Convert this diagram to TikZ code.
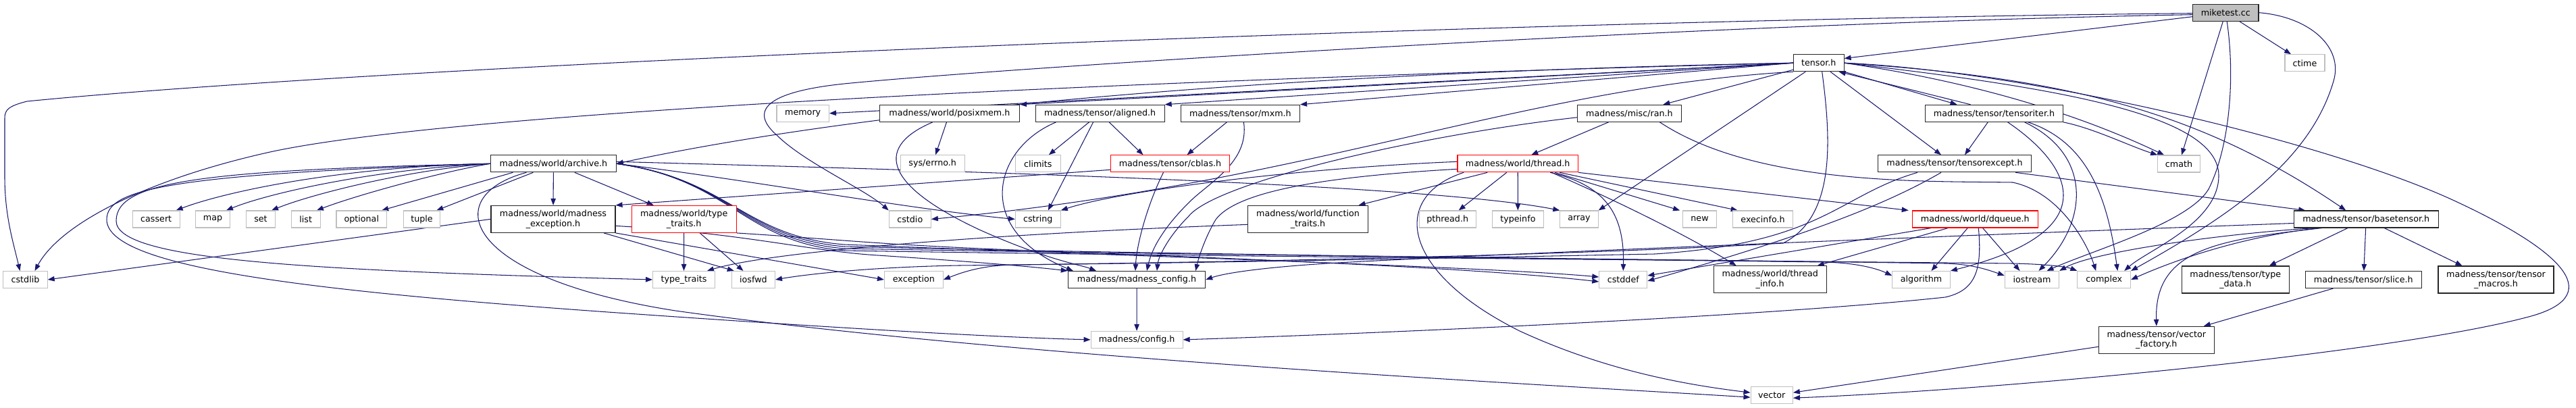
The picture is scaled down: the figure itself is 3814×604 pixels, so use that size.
\documentclass[tikz,border=0pt]{standalone}
\usepackage{fontspec}
\setmainfont{DejaVu Sans}
\usetikzlibrary{arrows.meta}
\definecolor{edgec}{HTML}{191970}
\definecolor{grayb}{HTML}{BFBFBF}
\pgfdeclarelayer{bg}
\pgfdeclarelayer{paper}
\pgfsetlayers{paper,bg,main}
\begin{document}
\begin{tikzpicture}[x=1pt,y=-1pt,
 nd/.style={rectangle, inner sep=0pt, minimum height=25, font=\fontsize{12.7}{14.6}\selectfont, align=center, fill=white, line width=1.1pt},
 doc/.style={nd, draw=black!85},
 sys/.style={nd, draw=grayb},
 trunc/.style={nd, draw=red},
 root/.style={nd, draw=black!85, fill=grayb},
 two/.style={minimum height=40},
 e/.style={draw=edgec, line width=1.05pt, -{Triangle[length=10pt,width=7.5pt]}}]
\useasboundingbox (0,0) rectangle (3814,604);
\begin{pgfonlayer}{paper}
\fill[white] (0,0) rectangle (3814,604);
\end{pgfonlayer}
% rank 0/1
\node[root, minimum width=97.3] (miketest) at (3295.3,18.7) {miketest.cc};
\node[doc, minimum width=74.7] (tensor) at (2692.7,93.2) {tensor.h};
\node[sys, minimum width=59] (ctime) at (3412.5,93.3) {ctime};
% rank 2
\node[sys, minimum width=77.5] (memory) at (1188.7,167.8) {memory};
\node[doc, minimum width=207] (posixmem) at (1405.9,167.8) {madness/world/posixmem.h};
\node[doc, minimum width=191] (aligned) at (1628.6,167.8) {madness/tensor/aligned.h};
\node[doc, minimum width=176.3] (mxm) at (1836.4,167.8) {madness/tensor/mxm.h};
\node[doc, minimum width=153.3] (ran) at (2412.4,167.8) {madness/misc/ran.h};
\node[doc, minimum width=203.6] (tensoriter) at (2952.5,167.8) {madness/tensor/tensoriter.h};
% rank 3
\node[doc, minimum width=185.8] (archive) at (819.4,242.3) {madness/world/archive.h};
\node[sys, minimum width=95.1] (errno) at (1380.7,242.3) {sys/errno.h};
\node[sys, minimum width=66.9] (climits) at (1536.8,242.3) {climits};
\node[trunc, minimum width=176] (cblas) at (1732.5,242.3) {madness/tensor/cblas.h};
\node[trunc, minimum width=178.4] (thread) at (2247.2,242.3) {madness/world/thread.h};
\node[doc, minimum width=227] (tensorexcept) at (2894,242.3) {madness/tensor/tensorexcept.h};
\node[sys, minimum width=62.6] (cmath) at (3226,242.5) {cmath};
% rank 4
\node[sys, minimum width=69.8] (cassert) at (231.2,324.5) {cassert};
\node[sys, minimum width=50.6] (map) at (315.1,324.5) {map};
\node[sys, minimum width=42.9] (set) at (386,324.5) {set};
\node[sys, minimum width=43.3] (list) at (452.7,324.5) {list};
\node[sys, minimum width=74.7] (optional) at (535.3,324.5) {optional};
\node[sys, minimum width=54.6] (tuple) at (624.5,324.5) {tuple};
\node[doc, two, minimum width=184] (madexc) at (819,324.4) {madness/world/madness\\\_exception.h};
\node[trunc, two, minimum width=155.2] (typetraitsh) at (1012.7,324.4) {madness/world/type\\\_traits.h};
\node[sys, minimum width=62.1] (cstdio) at (1347.3,324.5) {cstdio};
\node[sys, minimum width=66.9] (cstring) at (1536.8,324.5) {cstring};
\node[doc, two, minimum width=178.3] (functraits) at (1936.5,324.4) {madness/world/function\\\_traits.h};
\node[sys, minimum width=84.1] (pthread) at (2143.2,324.5) {pthread.h};
\node[sys, minimum width=76] (typeinfo) at (2247.4,324.5) {typeinfo};
\node[sys, minimum width=56.3] (array) at (2338,324.5) {array};
\node[sys, minimum width=49.6] (new) at (2516.5,324.5) {new};
\node[sys, minimum width=89.4] (execinfo) at (2610,324.5) {execinfo.h};
\node[trunc, minimum width=186] (dqueue) at (2924.3,324.5) {madness/world/dqueue.h};
\node[doc, minimum width=213.7] (basetensor) at (3503.2,324.5) {madness/tensor/basetensor.h};
% rank 5
\node[sys, minimum width=65.3] (cstdlib) at (37.5,414) {cstdlib};
\node[sys, minimum width=91.8] (typetraits) at (1012.5,414) {type\_traits};
\node[sys, minimum width=64.1] (iosfwd) at (1115.4,414) {iosfwd};
\node[sys, minimum width=86.9] (exception) at (1352.9,414) {exception};
\node[doc, minimum width=203.3] (madconfig) at (1683,414) {madness/madness\_config.h};
\node[sys, minimum width=71] (cstddef) at (2403.3,414) {cstddef};
\node[doc, two, minimum width=166.7] (threadinfo) at (2620.7,413.8) {madness/world/thread\\\_info.h};
\node[sys, minimum width=85.6] (algorithm) at (2844.5,414) {algorithm};
\node[sys, minimum width=80.4] (iostream) at (3008.5,414) {iostream};
\node[sys, minimum width=78.6] (complex) at (3115.2,414) {complex};
\node[doc, two, minimum width=159] (typedata) at (3309.8,414) {madness/tensor/type\\\_data.h};
\node[doc, minimum width=172] (slice) at (3499.3,414) {madness/tensor/slice.h};
\node[doc, two, minimum width=171] (macros) at (3695.5,414) {madness/tensor/tensor\\\_macros.h};
% rank 6/7
\node[sys, minimum width=136] (config) at (1683.1,502.9) {madness/config.h};
\node[doc, two, minimum width=171] (vectorfactory) at (3192.8,503.3) {madness/tensor/vector\\\_factory.h};
\node[sys, minimum width=62.3] (vector) at (2623.2,585.2) {vector};

\begin{pgfonlayer}{bg}
% miketest.cc
\draw[e] ([yshift=-6]miketest.west) -- (tensor.10);
\draw[e] ([yshift=-1]miketest.west) .. controls (2200,30) and (600,95) .. (40,150) .. controls (12,157) and (7,163) .. (7,175) -- (7,262) .. controls (7,320) and (20,360) .. ([xshift=-8]cstdlib.north);
\draw[e] ([yshift=-3]miketest.west) .. controls (2500,35) and (1500,100) .. (1260,123) .. controls (1130,135) and (1110,165) .. (1150,200) .. controls (1190,240) and (1280,280) .. (cstdio.north west);
\draw[e] (miketest) -- (ctime);
\draw[e] (miketest) -- (cmath);
\draw[e] (miketest) .. controls (3310,120) and (3300,220) .. (3270,280) .. controls (3240,330) and (3100,370) .. ([xshift=22]iostream.north);
\draw[e] (miketest.east) .. controls (3420,25) and (3470,70) .. (3455,120) .. controls (3420,240) and (3300,320) .. (complex.north east);
% tensor.h
\draw[e] (tensor.east) .. controls (3000,105) and (3450,210) .. (3640,300) .. controls (3800,375) and (3860,440) .. (3740,470) .. controls (3550,520) and (3000,575) .. ([yshift=-4]vector.east);
\draw[e] (tensor.south east) -- ([xshift=-55]tensoriter.north);
\draw[e] ([xshift=-35]tensoriter.north) -- ([xshift=-8]tensor.south east);
\draw[e] (tensor) -- ([xshift=-20]tensorexcept.north);
\draw[e] (tensor) -- (array.north east);
\draw[e] (tensor) -- ([xshift=50]ran.north);
\draw[e] ([xshift=5]tensor.south) .. controls (2710,200) and (2720,320) .. (2640,360) .. controls (2300,380) and (1700,390) .. (1420,393) .. controls (1300,395) and (1200,405) .. (iosfwd.east);
\draw[e] (tensor.east) .. controls (3050,115) and (3250,160) .. ([xshift=-30]basetensor.north);
\draw[e] (tensor.east) .. controls (3050,130) and (3285,170) .. (3285,260) .. controls (3285,330) and (3180,370) .. ([xshift=30]complex.north);
\draw[e] (tensor.east) .. controls (2950,125) and (3100,180) .. ([xshift=10]cmath.north west);
\draw[e] (tensor.west) -- (memory.east);
\draw[e] (tensor.west) -- (posixmem.north east);
\draw[e] (tensor.west) -- (aligned.north east);
\draw[e] (tensor.west) -- (mxm.north east);
\draw[e] (tensor.west) .. controls (1800,110) and (1250,170) .. (archive.east);
\draw[e] (tensor.west) .. controls (1800,115) and (700,160) .. (400,225) .. controls (220,265) and (90,330) .. ([xshift=14]cstdlib.north);
\draw[e] (tensor.south west) .. controls (2250,130) and (1950,270) .. (cstdio.east);
% archive.h
\draw[e] (archive.west) .. controls (500,247) and (330,285) .. ([xshift=-6]cassert.north east);
\draw[e] (archive.west) .. controls (560,250) and (400,285) .. ([xshift=-6]map.north east);
\draw[e] (archive.west) .. controls (600,252) and (460,288) .. ([xshift=-6]set.north east);
\draw[e] (archive.west) .. controls (650,255) and (525,290) .. ([xshift=-6]list.north east);
\draw[e] ([xshift=-60]archive.south) -- ([xshift=-8]optional.north east);
\draw[e] ([xshift=-30]archive.south) -- ([xshift=-6]tuple.north east);
\draw[e] (archive) -- (madexc);
\draw[e] (archive) -- ([xshift=-45]typetraitsh.north);
\draw[e] (archive.west) .. controls (300,252) and (172,268) .. (172,327) .. controls (172,385) and (450,400) .. (typetraits.west);
\draw[e] (archive.west) .. controls (250,258) and (158,280) .. (158,325) .. controls (158,395) and (450,430) .. (900,462) .. controls (1300,490) and (1500,500) .. (config.west);
\draw[e] ([xshift=-40]archive.south) .. controls (650,290) and (680,410) .. (1000,460) .. controls (1500,530) and (2300,570) .. ([yshift=-3]vector.west);
\draw[e] (archive.east) .. controls (1100,265) and (1350,310) .. (cstring.west);
\draw[e] ([yshift=3]archive.east) .. controls (1300,250) and (2100,270) .. (array.north west);
\draw[e] (archive.east) .. controls (1080,265) and (1100,350) .. (1250,362) .. controls (1700,380) and (2200,395) .. ([yshift=4]cstddef.west);
\draw[e] (archive.east) .. controls (1080,265) and (1100,352) .. (1250,365) .. controls (1700,376) and (2400,384) .. (2700,388) .. controls (2750,389) and (2780,398) .. ([yshift=6]algorithm.west);
\draw[e] (archive.east) .. controls (1080,265) and (1100,355) .. (1250,368) .. controls (1800,378) and (2500,384) .. (2880,390) .. controls (2920,391) and (2945,400) .. ([yshift=6]iostream.west);
\draw[e] (archive.east) .. controls (1080,265) and (1100,358) .. (1250,371) .. controls (1800,380) and (2600,386) .. (2980,390) .. controls (3030,391) and (3060,395) .. (complex.north west);
% madness_exception.h
\draw[e] (madexc.west) -- (cstdlib.east);
\draw[e] ([xshift=75]madexc.south) -- ([xshift=4]iosfwd.north west);
\draw[e] (madexc.south east) -- (exception.west);
\draw[e] ([yshift=-10]madexc.east) .. controls (1100,345) and (1200,372) .. (1300,378) .. controls (1450,388) and (1530,395) .. (madconfig.north west);
% type_traits.h
\draw[e] (typetraitsh) -- (typetraits);
\draw[e] (typetraitsh) -- (iosfwd);
\draw[e] (typetraitsh.south east) .. controls (1250,355) and (1300,362) .. (1500,370) .. controls (1900,385) and (2200,398) .. ([yshift=-3]cstddef.west);
% posixmem / aligned / mxm / cblas
\draw[e] (posixmem) -- (errno);
\draw[e] ([xshift=-25]posixmem.south) .. controls (1300,215) and (1300,270) .. (1450,340) .. controls (1550,385) and (1600,392) .. ([xshift=-60]madconfig.north);
\draw[e] (aligned) -- (climits);
\draw[e] ([xshift=-10]aligned.south) -- ([xshift=15]cstring.north);
\draw[e] (aligned) -- ([xshift=-40]cblas.north);
\draw[e] ([xshift=-65]aligned.south) .. controls (1470,220) and (1440,340) .. ([xshift=8]madconfig.north west);
\draw[e] ([xshift=-20]mxm.south) -- ([xshift=25]cblas.north);
\draw[e] ([xshift=5]mxm.south) .. controls (1850,240) and (1790,270) .. (1760,300) .. controls (1720,340) and (1705,370) .. ([xshift=15]madconfig.north);
\draw[e] ([xshift=-10]cblas.south) .. controls (1700,300) and (1683,360) .. ([xshift=-2]madconfig.north);
\draw[e] ([yshift=-9]cblas.west) -- (madexc.north east);
% ran.h
\draw[e] (ran) -- ([xshift=20]thread.north);
\draw[e] ([yshift=-6]ran.west) .. controls (2100,200) and (1800,270) .. (1760,320) .. controls (1730,350) and (1715,380) .. ([xshift=30]madconfig.north);
\draw[e] ([xshift=45]ran.south) .. controls (2600,275) and (2850,268) .. (2980,270) .. controls (3050,285) and (3090,360) .. ([xshift=-12]complex.north);
% thread.h
\draw[e] ([xshift=-45]thread.south) -- ([xshift=75]functraits.north);
\draw[e] (thread) -- (pthread);
\draw[e] (thread) -- (typeinfo);
\draw[e] ([xshift=55]thread.south) -- ([xshift=-4]new.north west);
\draw[e] ([xshift=62]thread.south) -- ([xshift=8]execinfo.north west);
\draw[e] (thread.south east) -- ([xshift=-5]dqueue.north west);
\draw[e] ([xshift=50]thread.south) .. controls (2400,300) and (2500,350) .. ([xshift=-50]threadinfo.north);
\draw[e] ([xshift=48]thread.south) .. controls (2380,275) and (2405,320) .. (cstddef.north);
\draw[e] ([xshift=-80]thread.south) .. controls (2060,290) and (2070,400) .. (2250,490) .. controls (2380,550) and (2500,570) .. ([yshift=4]vector.west);
\draw[e] ([yshift=3]thread.west) .. controls (1900,250) and (1650,285) .. (cstring.north east);
\draw[e] ([yshift=-8]thread.west) .. controls (1950,262) and (1830,285) .. (1800,325) .. controls (1785,350) and (1775,380) .. ([xshift=-15]madconfig.north east);
% function_traits.h
\draw[e] ([yshift=-8]functraits.west) .. controls (1500,345) and (1150,370) .. ([xshift=-12]typetraits.north east);
% dqueue.h
\draw[e] ([xshift=-40]dqueue.south) -- ([xshift=70]threadinfo.north);
\draw[e] (dqueue) -- ([xshift=15]algorithm.north);
\draw[e] (dqueue) -- ([xshift=-18]iostream.north);
\draw[e] ([xshift=-65]dqueue.south) -- ([yshift=6]cstddef.east);
\draw[e] ([xshift=5]dqueue.south) .. controls (2935,400) and (2925,430) .. (2880,440) .. controls (2600,470) and (2000,495) .. (config.east);
% tensoriter.h
\draw[e] (tensoriter) -- ([xshift=15]tensorexcept.north);
\draw[e] ([xshift=20]tensoriter.south) .. controls (3060,240) and (3130,340) .. (algorithm.north east);
\draw[e] ([xshift=45]tensoriter.south) .. controls (3100,230) and (3090,330) .. ([xshift=10]iostream.north);
\draw[e] ([xshift=50]tensoriter.south) .. controls (3090,210) and (3120,290) .. ([xshift=20]complex.north);
\draw[e] (tensoriter.south east) .. controls (3100,190) and (3150,215) .. (cmath.north west);
% tensorexcept.h
\draw[e] ([xshift=90]tensorexcept.south) -- ([xshift=-90]basetensor.north);
\draw[e] ([xshift=-55]tensorexcept.south) .. controls (2720,290) and (2700,360) .. (2450,376) .. controls (2000,385) and (1700,390) .. (1500,392) .. controls (1450,393) and (1420,405) .. (exception.east);
\draw[e] ([xshift=-20]tensorexcept.south) .. controls (2780,310) and (2650,355) .. ([yshift=-2]cstddef.east);
% basetensor.h
\draw[e] (basetensor) -- ([xshift=50]typedata.north);
\draw[e] (basetensor) -- (slice);
\draw[e] (basetensor) -- ([xshift=-50]macros.north);
\draw[e] ([xshift=-65]basetensor.south) .. controls (3280,355) and (3190,370) .. (vectorfactory.north);
\draw[e] ([xshift=-70]basetensor.south) .. controls (3320,350) and (3220,385) .. (complex.east);
\draw[e] ([xshift=-75]basetensor.south) .. controls (3300,345) and (3100,372) .. (iostream.north east);
\draw[e] ([yshift=-6]basetensor.west) .. controls (3000,345) and (2300,372) .. (2000,388) .. controls (1900,393) and (1820,402) .. (madconfig.east);
% rest
\draw[e] (madconfig) -- (config);
\draw[e] (slice) -- ([xshift=70]vectorfactory.north);
\draw[e] ([yshift=-10]vectorfactory.west) -- ([yshift=4]vector.east);
\end{pgfonlayer}
\end{tikzpicture}
\end{document}
